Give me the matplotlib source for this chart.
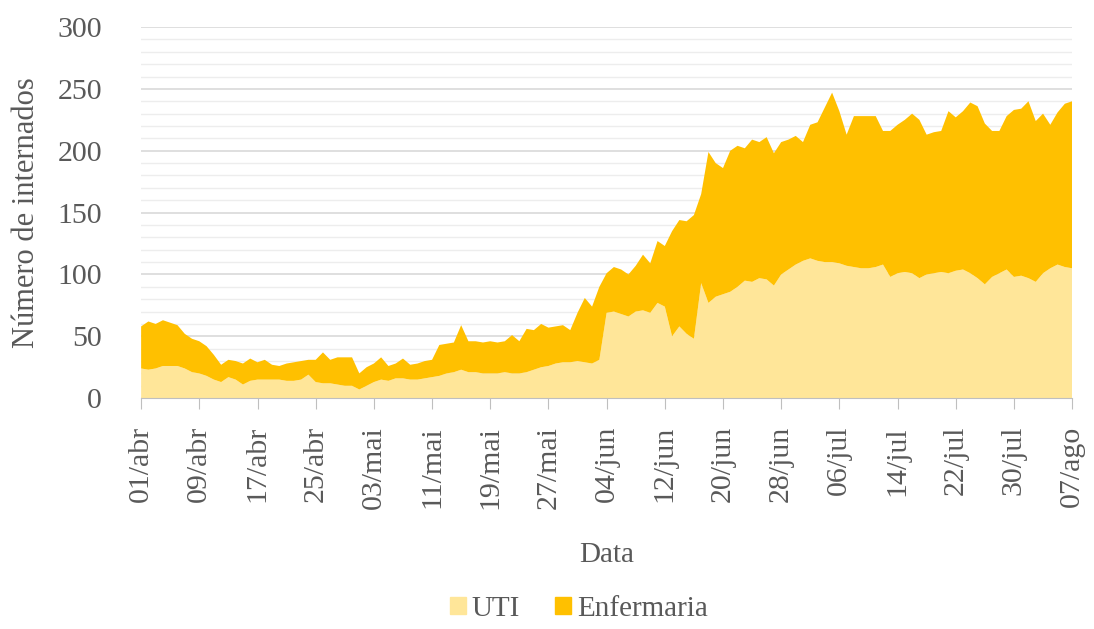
import numpy as np
import pandas as pd
import matplotlib
matplotlib.use('Agg')
import matplotlib.pyplot as plt
from matplotlib.patches import Patch
from matplotlib.ticker import MultipleLocator

plt.rcParams['font.family'] = ['Liberation Serif', 'DejaVu Serif']

# dias de 01/abr a 07/ago
datas = pd.date_range('2020-04-01', '2020-08-07', freq='D')
meses = {4: 'abr', 5: 'mai', 6: 'jun', 7: 'jul', 8: 'ago'}

# internados em UTI
uti = [24, 23, 24, 26, 26, 26, 24, 21, 20, 18,
       15, 13, 17, 15, 11, 14, 15, 15, 15, 15,
       14, 14, 15, 19, 13, 12, 12, 11, 10, 10,
       7, 10, 13, 15, 14, 16, 16, 15, 15, 16,
       17, 18, 20, 21, 23, 21, 21, 20, 20, 20,
       21, 20, 20, 21, 23, 25, 26, 28, 29, 29,
       30, 29, 28, 31, 69, 70, 68, 66, 70, 71,
       69, 77, 74, 50, 58, 52, 48, 93, 77, 82,
       84, 86, 90, 95, 94, 97, 96, 91, 100, 104,
       108, 111, 113, 111, 110, 110, 109, 107, 106, 105,
       105, 106, 108, 98, 101, 102, 101, 97, 100, 101,
       102, 101, 103, 104, 101, 97, 92, 98, 101, 104,
       98, 99, 97, 94, 101, 105, 108, 106, 105]

# internados em enfermaria
enfermaria = [34, 39, 36, 37, 35, 33, 28, 27, 26, 24,
              20, 14, 14, 15, 17, 18, 14, 16, 12, 11,
              14, 15, 15, 12, 18, 25, 19, 22, 23, 23,
              13, 15, 15, 18, 12, 12, 16, 12, 13, 14,
              14, 25, 24, 24, 36, 25, 25, 25, 26, 25,
              25, 31, 26, 35, 32, 35, 31, 30, 30, 26,
              39, 52, 46, 59, 32, 36, 36, 34, 37, 45,
              40, 50, 49, 85, 86, 91, 100, 72, 122, 108,
              102, 114, 114, 107, 115, 110, 115, 107, 107, 105,
              104, 96, 108, 112, 125, 137, 123, 106, 122, 123,
              123, 122, 108, 118, 120, 123, 129, 128, 113, 114,
              114, 131, 124, 128, 138, 139, 130, 118, 115, 124,
              135, 135, 143, 130, 129, 116, 123, 132, 135]

x = np.arange(len(datas))
rotulos = [f'{d.day:02d}/{meses[d.month]}' for d in datas]

cor_uti = '#FFE699'
cor_enf = '#FFC000'
cinza = '#595959'

fig = plt.figure(figsize=(10.94, 6.29), dpi=100)
ax = fig.add_axes([0.129, 0.367, 0.851, 0.590])

ax.stackplot(x, uti, enfermaria, colors=[cor_uti, cor_enf], linewidth=0)

ax.set_xlim(0, len(x) - 1)
ax.set_ylim(0, 300)
ax.yaxis.set_major_locator(MultipleLocator(50))
ax.yaxis.set_minor_locator(MultipleLocator(10))
ax.grid(which='major', axis='y', color='#D9D9D9', linewidth=1.2)
ax.grid(which='minor', axis='y', color='#EDEDED', linewidth=1.0)
ax.set_axisbelow(True)

ax.set_xticks(x[::8])
ax.set_xticklabels(rotulos[::8], rotation=90)

for s in ['top', 'right', 'left']:
    ax.spines[s].set_visible(False)
ax.spines['bottom'].set_color('#BFBFBF')

ax.tick_params(axis='x', length=8, color='#BFBFBF', pad=12,
               labelsize=21.5, labelcolor=cinza)
ax.tick_params(axis='y', which='both', length=0, pad=28,
               labelsize=21.5, labelcolor=cinza)

ax.set_xlabel('Data', fontsize=21, color=cinza, labelpad=24)
ax.set_ylabel('Número de internados', fontsize=22, color=cinza, labelpad=12)

handles = [Patch(color=cor_uti, label='UTI'), Patch(color=cor_enf, label='Enfermaria')]
fig.legend(handles=handles, loc='lower center', bbox_to_anchor=(0.529, -0.03),
           ncol=2, frameon=False, fontsize=21, handlelength=0.55, handleheight=0.55,
           handletextpad=0.2, columnspacing=1.2, labelcolor=cinza)

fig.savefig('out.png', dpi=100)
